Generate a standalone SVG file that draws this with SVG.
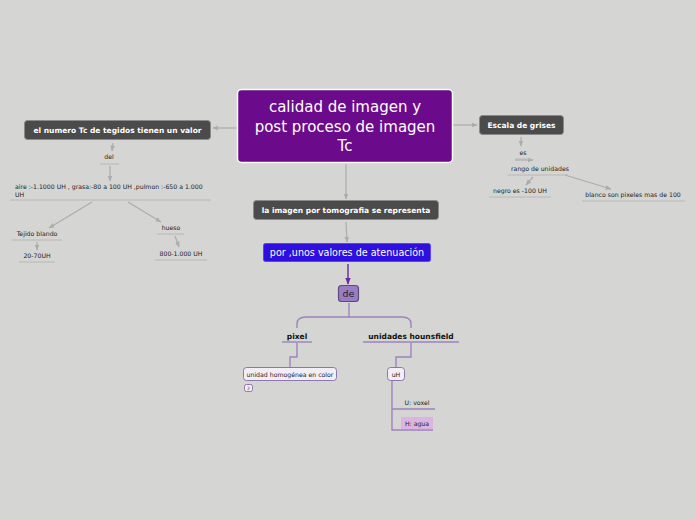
<svg xmlns="http://www.w3.org/2000/svg" width="696" height="520" viewBox="0 0 696 520">
<defs>
<style>
text{font-family:"DejaVu Sans","Liberation Sans",sans-serif;}
.dark rect{fill:#4b4b4b;stroke:#8a8a8a;stroke-width:1;}
.dark text{fill:#fff;font-weight:bold;font-size:7.5px;text-anchor:middle;}
.sub{fill:#222;font-size:6.2px;}
.ul{stroke:#b8b8b8;stroke-width:1;fill:none;}
.gl{stroke:#acacac;stroke-width:1.2;fill:none;}
.pl{stroke:#9e82be;stroke-width:1.4;fill:none;}
.pbox{fill:#f2eef6;stroke:#8d75ad;stroke-width:1;}
</style>
<marker id="ga" viewBox="0 0 10 10" refX="9" refY="5" markerWidth="5" markerHeight="5" orient="auto"><path d="M0,1 L10,5 L0,9 z" fill="#acacac"/></marker>
<marker id="pa" viewBox="0 0 10 10" refX="9" refY="5" markerWidth="5" markerHeight="5" orient="auto"><path d="M0,1 L10,5 L0,9 z" fill="#6a2a9a"/></marker>
</defs>
<rect width="696" height="520" fill="#d5d6d3"/>

<g id="connectors">
<path class="gl" d="M237,128 L213,128" marker-end="url(#ga)"/>
<path class="gl" d="M113,143 L112,151" marker-end="url(#ga)"/>
<path class="gl" d="M110,166 L110,181" marker-end="url(#ga)"/>
<path class="gl" d="M92,202 L49,228" marker-end="url(#ga)"/>
<path class="gl" d="M128,202 L161,222" marker-end="url(#ga)"/>
<path class="gl" d="M37,242 L37,250" marker-end="url(#ga)"/>
<path class="gl" d="M175,236 L179,247" marker-end="url(#ga)"/>
<path class="gl" d="M453,125 L477,125" marker-end="url(#ga)"/>
<path class="gl" d="M521,137 L521,146" marker-end="url(#ga)"/>
<path class="gl" d="M515,160 L533,160" marker-end="url(#ga)"/>
<path class="gl" d="M533,177 L526,185" marker-end="url(#ga)"/>
<path class="gl" d="M565,175 L611,189" marker-end="url(#ga)"/>
<path class="gl" d="M346,164 L346,199" marker-end="url(#ga)"/>
<path class="gl" d="M346,222 L347,242" marker-end="url(#ga)"/>
<path d="M348,264 L348,284" stroke="#6a2a9a" stroke-width="1.4" fill="none" marker-end="url(#pa)"/>
<path class="pl" d="M349,303 L349,317 L306,317 Q297,317 297,324 L297,328"/>
<path class="pl" d="M349,317 L402,317 Q411,317 411,324 L411,328"/>
<path class="pl" d="M297,343 L297,357 L290,357 L290,367"/>
<path class="pl" d="M411,343 L411,357 L396,357 L396,367"/>
<path class="pl" d="M392,381 L392,430 L433,430"/>
<path class="pl" d="M392,409 L435,409"/>
</g>

<g id="central">
<rect x="237.5" y="89.5" width="215" height="73" rx="4" fill="#6c0a8c" stroke="#ffffff" stroke-width="1.5"/>
<text x="345" y="112" font-size="15" fill="#fff" text-anchor="middle">calidad de imagen y</text>
<text x="345" y="132" font-size="15" fill="#fff" text-anchor="middle">post proceso de imagen</text>
<text x="345" y="151" font-size="15" fill="#fff" text-anchor="middle">Tc</text>
</g>

<g id="n-tejidos" class="dark">
<rect x="24.5" y="120.5" width="186" height="19" rx="3"/>
<text x="117.5" y="133">el numero Tc de tegidos tienen un valor</text>
</g>
<g id="n-del">
<text class="sub" x="109" y="159" text-anchor="middle">del</text>
<path class="ul" d="M100,164 L119,164"/>
</g>
<g id="n-aire">
<text class="sub" x="15" y="189">aire :-1.1000 UH , grasa:-80 a 100  UH ,pulmon :-650 a 1.000</text>
<text class="sub" x="15" y="197">UH</text>
<path class="ul" d="M10,200 L211,200"/>
</g>
<g id="n-tejido-blando">
<text class="sub" x="37" y="236" text-anchor="middle">Tejido blando</text>
<path class="ul" d="M12,240 L62,240"/>
</g>
<g id="n-20-70">
<text class="sub" x="37" y="258" text-anchor="middle">20-70UH</text>
<path class="ul" d="M19,262 L55,262"/>
</g>
<g id="n-hueso">
<text class="sub" x="171" y="230" text-anchor="middle">hueso</text>
<path class="ul" d="M157,234 L184,234"/>
</g>
<g id="n-800">
<text class="sub" x="181" y="256" text-anchor="middle">800-1.000 UH</text>
<path class="ul" d="M155,260 L207,260"/>
</g>

<g id="n-escala" class="dark">
<rect x="479.5" y="115.5" width="84" height="19" rx="3"/>
<text x="521.5" y="128">Escala de grises</text>
</g>
<g id="n-es">
<text class="sub" x="523" y="155" text-anchor="middle">es</text>
<path class="ul" d="M515,159 L531,159"/>
</g>
<g id="n-rango">
<text class="sub" x="540" y="171" text-anchor="middle">rango de unidades</text>
<path class="ul" d="M508,175 L568,175"/>
</g>
<g id="n-negro">
<text class="sub" x="520" y="193" text-anchor="middle">negro es -100 UH</text>
<path class="ul" d="M489,197 L551,197"/>
</g>
<g id="n-blanco">
<text class="sub" x="633" y="197" text-anchor="middle">blanco son pixeles mas de 100</text>
<path class="ul" d="M582,201 L685,201"/>
</g>

<g id="n-imagen" class="dark">
<rect x="253.5" y="200.5" width="185" height="19" rx="3"/>
<text x="346" y="213">la imagen por tomografia se representa</text>
</g>
<g id="n-atenuacion">
<rect x="263.5" y="243.5" width="167" height="18" rx="2" fill="#2e0fe0" stroke="#5a46ee" stroke-width="1"/>
<text x="347" y="256" font-size="9.6" fill="#fff" text-anchor="middle">por ,unos valores de atenuación</text>
</g>
<g id="n-de">
<rect x="338.5" y="285.5" width="20" height="16" rx="3" fill="#9a7cc4" stroke="#5e4a7a" stroke-width="1.2"/>
<text x="348.5" y="297" font-size="9.5" fill="#222" text-anchor="middle">de</text>
</g>
<g id="n-pixel">
<text x="297" y="339" font-size="7.5" font-weight="bold" fill="#111" text-anchor="middle">pixel</text>
<path class="pl" d="M282,342 L312,342" stroke-width="1"/>
</g>
<g id="n-hounsfield">
<text x="411" y="339" font-size="7.5" font-weight="bold" fill="#111" text-anchor="middle">unidades hounsfield</text>
<path class="pl" d="M363,342 L459,342" stroke-width="1"/>
</g>
<g id="n-homogenea">
<rect class="pbox" x="243.5" y="367.5" width="93" height="13" rx="3"/>
<text class="sub" x="290" y="377" text-anchor="middle">unidad homogénea en color</text>
<rect class="pbox" x="244.5" y="384.5" width="8" height="7" rx="2" fill="#fff"/>
<text x="248.5" y="390" font-size="4.5" fill="#333" text-anchor="middle">2</text>
</g>
<g id="n-uh">
<rect class="pbox" x="387.5" y="367.5" width="17" height="13" rx="3"/>
<text class="sub" x="396" y="377" text-anchor="middle">uH</text>
</g>
<g id="n-voxel">
<text class="sub" x="417" y="405" text-anchor="middle">U: voxel</text>
</g>
<g id="n-agua">
<rect x="401" y="417" width="32" height="12" fill="#dcb4e4"/>
<text class="sub" x="417" y="426" text-anchor="middle">H: agua</text>
</g>
</svg>
